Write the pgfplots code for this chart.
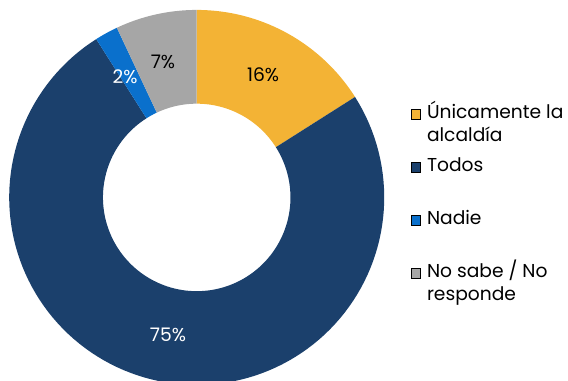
\documentclass[border=0pt]{standalone}
\usepackage{pgfplots}
\pgfplotsset{compat=1.18}
\usepackage{pgfplotstable}
\usepgfplotslibrary{fillbetween}
\usepackage{fontspec}
\setmainfont{Poppins}
\definecolor{cA}{HTML}{F3B335}
\definecolor{cB}{HTML}{1B406C}
\definecolor{cC}{HTML}{0A70CC}
\definecolor{cD}{HTML}{A6A6A6}

\pgfplotstableread{
label value
Unica 16
Todos 75
Nadie 2
NoSabe 7
}\datatable
\pgfplotstablegetelem{0}{value}\of\datatable \let\vA\pgfplotsretval
\pgfplotstablegetelem{1}{value}\of\datatable \let\vB\pgfplotsretval
\pgfplotstablegetelem{2}{value}\of\datatable \let\vC\pgfplotsretval
\pgfplotstablegetelem{3}{value}\of\datatable \let\vD\pgfplotsretval
\pgfmathsetmacro{\aO}{90}
\pgfmathsetmacro{\aA}{90-3.6*\vA}
\pgfmathsetmacro{\aB}{\aA-3.6*\vB}
\pgfmathsetmacro{\aC}{\aB-3.6*\vC}
\pgfmathsetmacro{\aD}{\aC-3.6*\vD}

\newcommand{\slice}[4]{%
  \addplot[name path=o#4, draw=none, forget plot, domain=#2:#1, samples=120] ({cos(x)},{sin(x)});
  \addplot[name path=i#4, draw=none, forget plot, domain=#2:#1, samples=120] ({0.5*cos(x)},{0.5*sin(x)});
  \addplot[fill=#3, draw=none, forget plot] fill between[of=o#4 and i#4];
}
\newcommand{\ent}[1]{\begin{tabular}[t]{@{}l@{}}#1\end{tabular}}

\begin{document}
\begin{tikzpicture}
\begin{axis}[
  width=426pt, height=285.75pt, scale only axis,
  xmin=-1.049, xmax=1.980, ymin=-0.979, ymax=1.053,
  hide axis, clip=true,
  legend style={at={(axis cs:1.140,0.498)}, anchor=north west, draw=none, fill=none,
    inner sep=0pt, row sep=0pt, column sep=4.8pt, font=\fontsize{14}{17.25}\selectfont,
    nodes={anchor=base west, inner sep=0pt, text height=11pt, text depth=28.75pt}},
  legend image code/.code={\fill[#1] (0pt,0pt) rectangle (7pt,7pt);},
]
\slice{\aO}{\aA}{cA}{a}
\slice{\aA}{\aB}{cB}{b}
\slice{\aB}{\aC}{cC}{c}
\slice{\aC}{\aD}{cD}{d}
\addlegendimage{fill=cA}
\addlegendentry{\ent{Únicamente la\\alcaldía}}
\addlegendimage{fill=cB}
\addlegendentry{\ent{Todos}}
\addlegendimage{fill=cC}
\addlegendentry{\ent{Nadie}}
\addlegendimage{fill=cD}
\addlegendentry{\ent{No sabe / No\\responde}}
\node[font=\fontsize{14}{16}\selectfont, text=black] at (axis cs:0.354,0.653) {16\%};
\node[font=\fontsize{14}{16}\selectfont, text=black] at (axis cs:-0.180,0.723) {7\%};
\node[font=\fontsize{14}{16}\selectfont, text=white] at (axis cs:-0.382,0.643) {2\%};
\node[font=\fontsize{14}{16}\selectfont, text=white] at (axis cs:-0.153,-0.733) {75\%};
\end{axis}
\end{tikzpicture}
\end{document}
